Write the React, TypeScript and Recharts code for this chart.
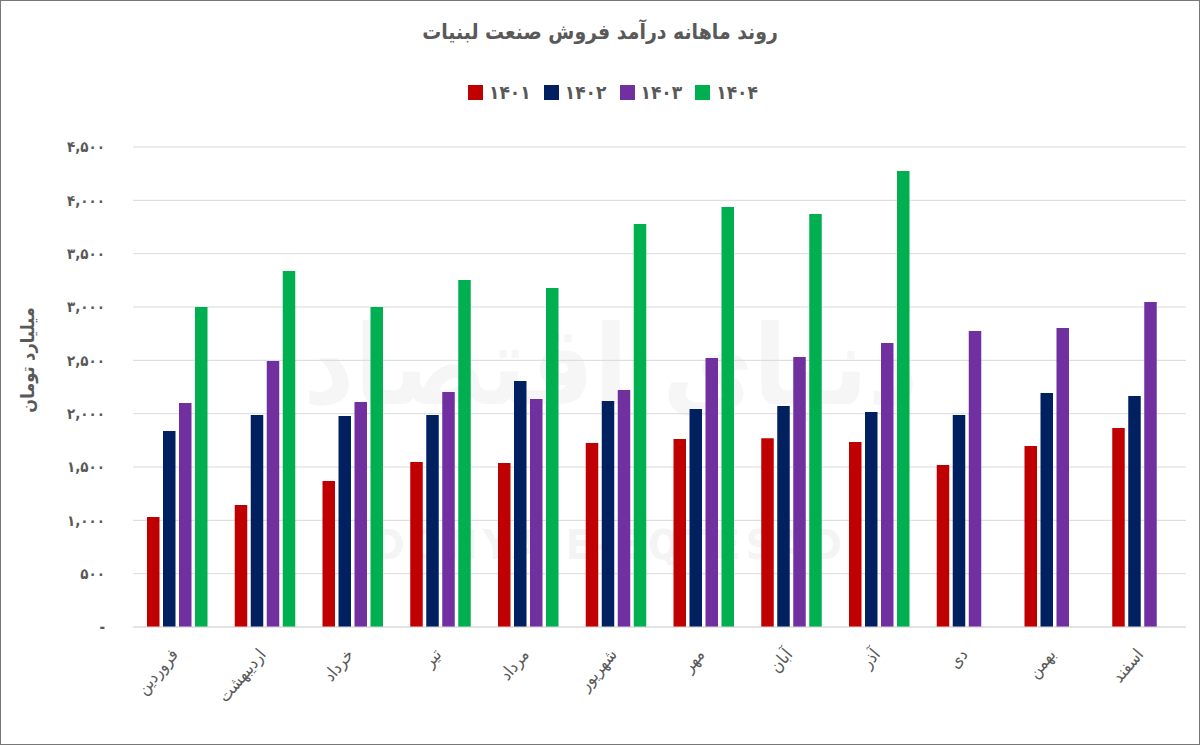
import React from "react";
import {
  Bar,
  BarChart,
  CartesianGrid,
  Label,
  XAxis,
  YAxis,
} from "recharts";

const months = [
  "فروردین",
  "اردیبهشت",
  "خرداد",
  "تیر",
  "مرداد",
  "شهریور",
  "مهر",
  "آبان",
  "آذر",
  "دی",
  "بهمن",
  "اسفند",
];

const sales1401 = [1031, 1144, 1369, 1547, 1538, 1725, 1763, 1770, 1734, 1519, 1697, 1866];
const sales1402 = [1838, 1988, 1978, 1988, 2306, 2119, 2044, 2072, 2016, 1988, 2194, 2166];
const sales1403 = [2100, 2494, 2109, 2203, 2138, 2222, 2522, 2531, 2663, 2775, 2803, 3047];
const sales1404 = [3000, 3338, 3000, 3253, 3178, 3778, 3938, 3872, 4275, null, null, null];

const yTicks = [0, 500, 1000, 1500, 2000, 2500, 3000, 3500, 4000, 4500];

const series = [
  { key: "y1401", name: "۱۴۰۱", color: "#c00000" },
  { key: "y1402", name: "۱۴۰۲", color: "#002060" },
  { key: "y1403", name: "۱۴۰۳", color: "#7030a0" },
  { key: "y1404", name: "۱۴۰۴", color: "#00b050" },
];

const data = months.map((m, i) => ({
  month: m,
  y1401: sales1401[i],
  y1402: sales1402[i],
  y1403: sales1403[i],
  y1404: sales1404[i],
}));

const FONT = "'DejaVu Sans Condensed', 'DejaVu Sans', sans-serif";
const INK = "#595959";

const faDigits = (s: string) => s.replace(/[0-9]/g, (d) => "۰۱۲۳۴۵۶۷۸۹"[Number(d)]);

const formatY = (v: number) => (v === 0 ? "-" : faDigits(v.toLocaleString("en-US")));

function MonthTick(props: any) {
  const { x, y, payload } = props;
  return (
    <g transform={`translate(${x},${y})`}>
      <text
        x={2}
        y={20}
        textAnchor="end"
        transform="rotate(-50 2 20)"
        fill={INK}
        fontFamily={FONT}
        fontSize={17}
      >
        {payload.value}
      </text>
    </g>
  );
}

export default function App() {
  return (
    <div
      style={{
        position: "relative",
        width: 1200,
        height: 745,
        boxSizing: "border-box",
        border: "1px solid #777",
        background: "#fff",
        overflow: "hidden",
      }}
    >
      <style>{`body{margin:0}`}</style>
      <div
        style={{
          position: "absolute",
          top: 19,
          left: 0,
          width: "100%",
          textAlign: "center",
          fontFamily: FONT,
          fontWeight: "bold",
          fontSize: 21,
          color: INK,
          direction: "rtl",
        }}
      >
        روند ماهانه درآمد فروش صنعت لبنیات
      </div>
      <div
        style={{
          position: "absolute",
          top: 80,
          left: 467,
          display: "flex",
          alignItems: "center",
          fontFamily: FONT,
          fontWeight: "bold",
          fontSize: 19,
          color: INK,
        }}
      >
        {series.map((s) => (
          <div key={s.key} style={{ display: "flex", alignItems: "center", marginRight: 13 }}>
            <span
              style={{
                display: "inline-block",
                width: 15,
                height: 15,
                background: s.color,
                marginRight: 6,
              }}
            />
            <span>{s.name}</span>
          </div>
        ))}
      </div>
      <div
        style={{
          position: "absolute",
          top: 300,
          left: 300,
          width: 620,
          textAlign: "center",
          fontFamily: FONT,
          fontWeight: "bold",
          fontSize: 110,
          lineHeight: "130px",
          color: "#f6f6f6",
          direction: "rtl",
        }}
      >
        دنیای اقتصاد
      </div>
      <div
        style={{
          position: "absolute",
          top: 522,
          left: 340,
          width: 540,
          textAlign: "center",
          fontFamily: FONT,
          fontWeight: "bold",
          fontSize: 40,
          lineHeight: "44px",
          letterSpacing: 6,
          color: "#f4f4f4",
        }}
      >
        DONYA-E-EQTESAD
      </div>
      <div style={{ position: "absolute", top: -1, left: -1 }}>
        <BarChart
          width={1200}
          height={745}
          data={data}
          margin={{ top: 147, right: 14, bottom: 0, left: 0 }}
          barSize={12.5}
          barGap={3.5}
        >
          <CartesianGrid stroke="#d9d9d9" vertical={false} />
          <XAxis
            dataKey="month"
            height={118}
            axisLine={{ stroke: "#d9d9d9" }}
            tickLine={false}
            interval={0}
            tick={<MonthTick />}
          />
          <YAxis
            width={133}
            domain={[0, 4500]}
            ticks={yTicks}
            axisLine={false}
            tickLine={false}
            tickMargin={22}
            tickFormatter={formatY}
            tick={{ fill: INK, fontFamily: FONT, fontSize: 15, fontWeight: "bold" }}
          >
            <Label
              content={() => (
                <text
                  x={27}
                  y={360}
                  transform="rotate(-90 27 360)"
                  textAnchor="middle"
                  dominantBaseline="central"
                  fill={INK}
                  fontFamily={FONT}
                  fontWeight="bold"
                  fontSize={18}
                >
                  میلیارد تومان
                </text>
              )}
            />
          </YAxis>
          {series.map((s) => (
            <Bar
              key={s.key}
              dataKey={s.key}
              name={s.name}
              fill={s.color}
              isAnimationActive={false}
            />
          ))}
        </BarChart>
      </div>
    </div>
  );
}
